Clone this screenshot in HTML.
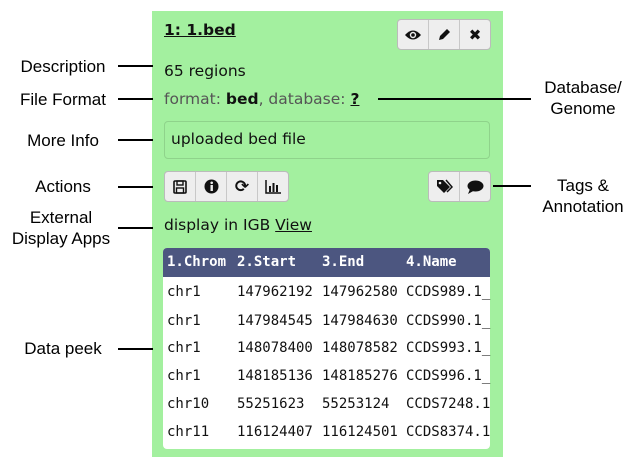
<!DOCTYPE html>
<html><head><meta charset="utf-8"><style>
body{margin:0;width:636px;height:465px;background:#fff;position:relative;overflow:hidden;font-family:"DejaVu Sans","Liberation Sans",sans-serif}
.a{position:absolute}
.lbl{position:absolute;font-family:"Liberation Sans",Arial,sans-serif;font-size:17px;color:#000;text-align:center;line-height:21px}
.ln{position:absolute;height:2px;background:#000}
.t{position:absolute;font-size:15.5px;color:#111;white-space:nowrap}
.grp{position:absolute;display:flex;border:1px solid #bbb;border-radius:4px;overflow:hidden;background:#eee}
.grp div{width:30px;height:29px;border-right:1px solid #c8c8c8;display:flex;align-items:center;justify-content:center;font-size:15px;color:#111;font-weight:bold}
.grp div:last-child{border-right:none}
.c{position:absolute;font-family:"DejaVu Sans Mono",monospace;font-size:14px;color:#111;white-space:pre}
.h{color:#fff;font-weight:bold}
</style></head><body>
<div class="a" style="left:152px;top:11px;width:351px;height:446px;background:#a3f09f"></div>

<div class="t" style="left:164px;top:21px;font-weight:bold;text-decoration:underline;font-size:15.5px">1: 1.bed</div>
<div class="grp" style="left:397px;top:19px">
<div><svg width="18" height="12" viewBox="0 0 18 12"><path d="M1 6Q9-3 17 6Q9 15 1 6Z" fill="#111"/><circle cx="9" cy="6" r="3.2" fill="#eee"/><circle cx="9" cy="6" r="1.8" fill="#111"/></svg></div>
<div><svg width="15" height="15" viewBox="0 0 15 15"><path d="M2 13L3 9L10 2L13 5L6 12Z" fill="#111"/></svg></div>
<div>✖</div></div>

<div class="t" style="left:164px;top:62px">65 regions</div>
<div class="t" style="left:164px;top:90px;color:#555">format: <b style="color:#111">bed</b>, database: <b style="color:#111;text-decoration:underline">?</b></div>

<div class="a" style="left:164px;top:121px;width:324px;height:36px;border:1px solid #8fd38b;border-radius:4px;background:#a3f09f"></div>
<div class="t" style="left:171px;top:130px">uploaded bed file</div>

<div class="grp" style="left:164px;top:171px">
<div><svg width="14" height="14" viewBox="0 0 14 14"><rect x="1" y="1" width="12" height="12" rx="1" fill="none" stroke="#111" stroke-width="1.6"/><rect x="4" y="1" width="6" height="4" fill="none" stroke="#111" stroke-width="1.4"/><rect x="3.5" y="8" width="7" height="5" fill="none" stroke="#111" stroke-width="1.4"/></svg></div>
<div><svg width="15" height="15" viewBox="0 0 15 15"><circle cx="7.5" cy="7.5" r="7" fill="#111"/><rect x="6.5" y="6" width="2.4" height="6" fill="#eee"/><circle cx="7.7" cy="3.8" r="1.3" fill="#eee"/></svg></div>
<div style="font-size:17px">⟳</div>
<div><svg width="16" height="14" viewBox="0 0 16 14"><path d="M1 0V13H16" fill="none" stroke="#111" stroke-width="1.5"/><rect x="4" y="6" width="2" height="6" fill="#111"/><rect x="7.5" y="3" width="2" height="9" fill="#111"/><rect x="11" y="5" width="2" height="7" fill="#111"/></svg></div>
</div>
<div class="grp" style="left:428px;top:171px">
<div><svg width="17" height="15" viewBox="0 0 17 15"><path d="M1 1H7L14 8L8 14L1 7Z" fill="#111"/><circle cx="4" cy="4" r="1.3" fill="#eee"/><path d="M10 1L16 8L11 13" fill="none" stroke="#111" stroke-width="1.5"/></svg></div>
<div><svg width="17" height="14" viewBox="0 0 17 14"><ellipse cx="8.5" cy="6" rx="8" ry="5.5" fill="#111"/><path d="M3 9L1 14L8 10Z" fill="#111"/></svg></div>
</div>

<div class="t" style="left:164px;top:216px">display in IGB <span style="text-decoration:underline">View</span></div>

<div class="a" style="left:163px;top:248px;width:327px;height:201px;background:#fff;border-radius:4px;overflow:hidden">
<div style="height:29px;background:#4c5680"></div></div>

<div class="c h" style="left:167px;top:254px">1.Chrom</div><div class="c h" style="left:237px;top:254px">2.Start</div><div class="c h" style="left:322px;top:254px">3.End</div><div class="c h" style="left:406px;top:254px">4.Name</div>

<div class="c" style="left:167px;top:284px">chr1</div><div class="c" style="left:237px;top:284px">147962192</div><div class="c" style="left:322px;top:284px">147962580</div><div class="c" style="left:406px;top:284px">CCDS989.1_</div>
<div class="c" style="left:167px;top:313px">chr1</div><div class="c" style="left:237px;top:313px">147984545</div><div class="c" style="left:322px;top:313px">147984630</div><div class="c" style="left:406px;top:313px">CCDS990.1_</div>
<div class="c" style="left:167px;top:340px">chr1</div><div class="c" style="left:237px;top:340px">148078400</div><div class="c" style="left:322px;top:340px">148078582</div><div class="c" style="left:406px;top:340px">CCDS993.1_</div>
<div class="c" style="left:167px;top:368px">chr1</div><div class="c" style="left:237px;top:368px">148185136</div><div class="c" style="left:322px;top:368px">148185276</div><div class="c" style="left:406px;top:368px">CCDS996.1_</div>
<div class="c" style="left:167px;top:396px">chr10</div><div class="c" style="left:237px;top:396px">55251623</div><div class="c" style="left:322px;top:396px">55253124</div><div class="c" style="left:406px;top:396px">CCDS7248.1</div>
<div class="c" style="left:167px;top:424px">chr11</div><div class="c" style="left:237px;top:424px">116124407</div><div class="c" style="left:322px;top:424px">116124501</div><div class="c" style="left:406px;top:424px">CCDS8374.1</div>

<div class="lbl" style="left:8px;top:56px;width:110px">Description</div>
<div class="ln" style="left:118px;top:65px;width:35px"></div>
<div class="lbl" style="left:8px;top:89px;width:110px">File Format</div>
<div class="ln" style="left:118px;top:98px;width:35px"></div>
<div class="lbl" style="left:8px;top:130px;width:110px">More Info</div>
<div class="ln" style="left:118px;top:139px;width:35px"></div>
<div class="lbl" style="left:8px;top:176px;width:110px">Actions</div>
<div class="ln" style="left:118px;top:186px;width:35px"></div>
<div class="lbl" style="left:4px;top:207px;width:114px">External<br>Display Apps</div>
<div class="ln" style="left:118px;top:227px;width:35px"></div>
<div class="lbl" style="left:8px;top:338px;width:110px">Data peek</div>
<div class="ln" style="left:118px;top:348px;width:35px"></div>

<div class="ln" style="left:378px;top:98px;width:153px"></div>
<div class="lbl" style="left:530px;top:77px;width:106px">Database/<br>Genome</div>
<div class="ln" style="left:493px;top:185px;width:38px"></div>
<div class="lbl" style="left:530px;top:175px;width:106px">Tags &amp;<br>Annotation</div>
</body></html>
